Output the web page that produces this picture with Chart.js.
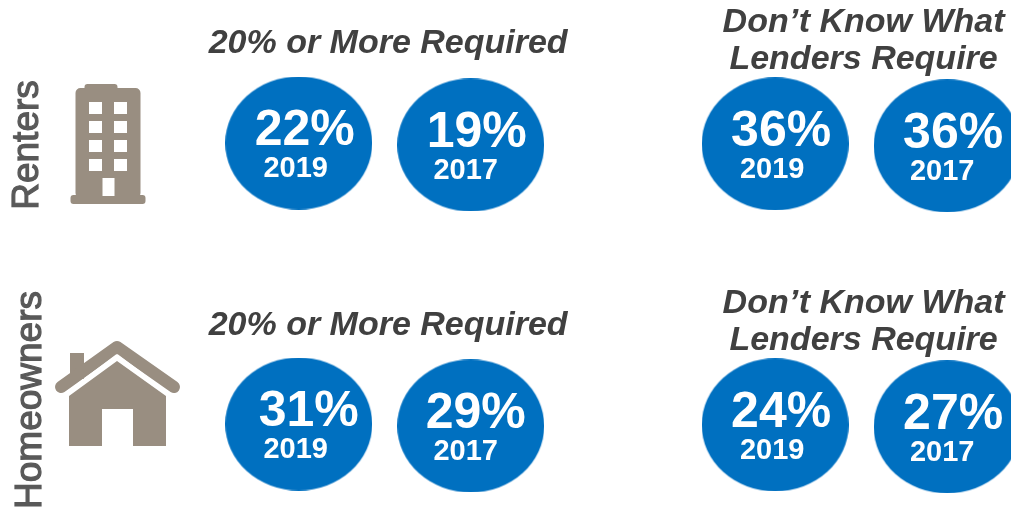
<!DOCTYPE html>
<html>
<head>
<meta charset="utf-8">
<style>
  html, body { margin: 0; padding: 0; background: #fff; overflow: hidden; }
  canvas { display: block; }
</style>
<script src="https://cdn.jsdelivr.net/npm/chart.js@4"></script>
</head>
<body>
<canvas id="chart" width="1011" height="511"></canvas>
<script>
/* --- Data --- */
const groups = ['Renters', 'Homeowners'];
const panels = ['20% or More Required', 'Don\u2019t Know What\nLenders Require'];
const years = ['2019', '2017'];
const values2019 = [22, 36, 31, 24]; // renters L/R, homeowners L/R
const values2017 = [19, 36, 29, 27];

/* --- Style --- */
const BLUE = '#0070c0';
const TAUPE = '#998e81';
const FONT = '"Liberation Sans", Arial, sans-serif';

// Each year is one unit on x, each group one unit on y
const PANEL_GAP = 2.77;
function pointsFor(values, yearIdx) {
  return values.map((v, i) => {
    const row = Math.floor(i / 2);
    const panel = i % 2;
    return {
      x: panel * PANEL_GAP + yearIdx,
      y: row + yearIdx * 0.007 + panel * 0.003,
      v: v
    };
  });
}

// Ellipse marker, chart.js centres a canvas pointStyle on the point
function ellipseMarker(w, h) {
  const c = document.createElement('canvas');
  c.width = w;
  c.height = h;
  const g = c.getContext('2d');
  g.fillStyle = BLUE;
  g.beginPath();
  g.ellipse(w / 2, h / 2, w / 2, h / 2, 0, 0, Math.PI * 2);
  g.fill();
  return c;
}
const marker = ellipseMarker(147, 133);

function drawBuilding(ctx, x, y) {
  ctx.save();
  ctx.translate(x, y);
  ctx.fillStyle = TAUPE;
  ctx.beginPath();
  ctx.roundRect(-33, -55, 65, 110, 5);
  ctx.roundRect(-24, -59, 33, 10, 3);
  ctx.roundRect(-38, 52, 75, 9, 3);
  ctx.fill();
  ctx.fillStyle = '#fff';
  [-41, -22, -3, 16].forEach(wy => {
    ctx.fillRect(-19.5, wy, 13, 12);
    ctx.fillRect(5.5, wy, 13, 12);
  });
  ctx.fillRect(-6, 35, 12, 18);
  ctx.restore();
}

function drawHouse(ctx, x, y) {
  ctx.save();
  ctx.translate(x, y);
  ctx.fillStyle = TAUPE;
  ctx.strokeStyle = TAUPE;
  // chimney
  ctx.fillRect(-47, -41, 14, 26);
  // roof
  ctx.lineWidth = 12;
  ctx.lineCap = 'round';
  ctx.lineJoin = 'round';
  ctx.beginPath();
  ctx.moveTo(-56, -7);
  ctx.lineTo(0, -47);
  ctx.lineTo(57, -7);
  ctx.stroke();
  // gap under the roof
  ctx.strokeStyle = '#fff';
  ctx.lineWidth = 3.5;
  ctx.lineCap = 'butt';
  ctx.beginPath();
  ctx.moveTo(-52, 1);
  ctx.lineTo(0, -38);
  ctx.lineTo(52, 1);
  ctx.stroke();
  // body
  ctx.beginPath();
  ctx.moveTo(-48, 2);
  ctx.lineTo(0, -33);
  ctx.lineTo(49, 2);
  ctx.lineTo(49, 52);
  ctx.lineTo(16, 52);
  ctx.lineTo(16, 15);
  ctx.lineTo(-15, 15);
  ctx.lineTo(-15, 52);
  ctx.lineTo(-48, 52);
  ctx.closePath();
  ctx.fill();
  ctx.restore();
}

/* --- Text and icons drawn on top of the markers --- */
const infographicPlugin = {
  id: 'infographic',
  afterDatasetsDraw(chart) {
    const ctx = chart.ctx;
    const xs = chart.scales.x;
    const ys = chart.scales.y;
    ctx.save();
    ctx.textAlign = 'center';
    ctx.textBaseline = 'middle';

    // values and years inside the ellipses
    chart.data.datasets.forEach((ds, d) => {
      chart.getDatasetMeta(d).data.forEach((el, i) => {
        const p = ds.data[i];
        const nudge = p.v === 31 ? 10 : (p.v === 29 ? 5 : 6);
        ctx.fillStyle = '#fff';
        ctx.font = 'bold 50px ' + FONT;
        ctx.fillText(p.v + '%', el.x + nudge, el.y - 12);
        ctx.font = 'bold 29px ' + FONT;
        ctx.fillText(ds.label, el.x + (d === 0 ? -3 : -5), el.y + 26);
      });
    });

    // panel headings
    ctx.fillStyle = '#404040';
    ctx.font = 'italic bold 34px ' + FONT;
    groups.forEach((g, r) => {
      const rowY = ys.getPixelForValue(r);
      ctx.fillText(panels[0], xs.getPixelForValue(0.52), rowY - (r === 0 ? 99 : 98));
      panels[1].split('\n').forEach((line, l) => {
        ctx.fillText(line, xs.getPixelForValue(PANEL_GAP + 0.52) - 1, rowY - (r === 0 ? 120 : 120) + l * 37);
      });
    });

    // group labels, rotated
    ctx.fillStyle = '#595959';
    ctx.strokeStyle = '#595959';
    ctx.lineWidth = 1.2;
    [[28, 145, 0], [31, 400, 1]].forEach(([lx, ly, r]) => {
      ctx.save();
      ctx.translate(lx, ly);
      ctx.rotate(-Math.PI / 2);
      ctx.font = '37px ' + FONT;
      ctx.fillText(groups[r], 0, 0);
      ctx.strokeText(groups[r], 0, 0);
      ctx.restore();
    });

    drawBuilding(ctx, 108.5, 143);
    drawHouse(ctx, 117, 394);
    ctx.restore();
  }
};

/* --- Chart --- */
new Chart(document.getElementById('chart'), {
  type: 'scatter',
  data: {
    datasets: [
      { label: years[0], data: pointsFor(values2019, 0), pointStyle: marker, pointRadius: 70, borderWidth: 0 },
      { label: years[1], data: pointsFor(values2017, 1), pointStyle: marker, pointRadius: 70, borderWidth: 0 }
    ]
  },
  options: {
    responsive: false,
    animation: false,
    events: [],
    layout: { padding: 0, autoPadding: false },
    scales: {
      x: { display: false, min: -1.7366, max: 4.1413 },
      y: { display: false, reverse: true, min: -0.5089, max: 1.3096 }
    },
    plugins: {
      legend: { display: false },
      tooltip: { enabled: false }
    }
  },
  plugins: [infographicPlugin]
});
</script>
</body>
</html>
